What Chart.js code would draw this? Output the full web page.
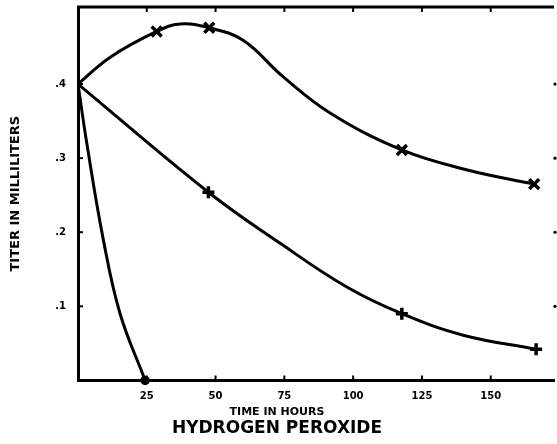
<!DOCTYPE html>
<html>
<head>
<meta charset="utf-8">
<script src="https://cdn.jsdelivr.net/npm/chart.js@4.4.1/dist/chart.umd.min.js"></script>
<style>
  html, body { margin: 0; padding: 0; background: #fff; overflow: hidden; }
  #wrap { width: 557px; height: 444px; }
</style>
</head>
<body>
<div id="wrap"><canvas id="c"></canvas></div>
<script>
// hours / titer (ml)
const upperHours = [0, 11.6, 28.6, 37, 47.7, 60, 74.5, 91.6, 117.7, 141.5, 165.8];
const upperTiter = [0.40, 0.436, 0.471, 0.481, 0.476, 0.459, 0.41, 0.361, 0.311, 0.284, 0.265];
const upperMarkHours = [28.6, 47.7, 117.7, 165.8];
const upperMarkTiter = [0.471, 0.476, 0.311, 0.265];

const lowerHours = [0, 47.4, 73.5, 97.7, 117.7, 140, 166.5];
const lowerTiter = [0.40, 0.254, 0.185, 0.126, 0.09, 0.061, 0.042];
const lowerMarkHours = [47.4, 117.7, 166.5];
const lowerMarkTiter = [0.254, 0.09, 0.042];

const steepHours = [0, 3.2, 9.2, 15.3, 24.4];
const steepTiter = [0.40, 0.32, 0.19, 0.09, 0];
const steepMarkHours = [24.4];
const steepMarkTiter = [0];

const xTicks = [25, 50, 75, 100, 125, 150];
const yTicks = [0.1, 0.2, 0.3, 0.4];
const yLabels = ['.1', '.2', '.3', '.4'];

const pts = (xs, ys) => xs.map((x, i) => ({ x: x, y: ys[i] }));

function curve(xs, ys) {
    return {
        type: 'line', data: pts(xs, ys), borderColor: '#000', borderWidth: 3,
        pointRadius: 0, tension: 0.4, fill: false
    };
}
function marks(xs, ys, style, r) {
    return {
        type: 'scatter', data: pts(xs, ys), pointStyle: style, pointRadius: r,
        borderColor: '#000', backgroundColor: '#000', pointBorderWidth: 3.5, clip: false
    };
}

// frame top edge and small inward tick marks
const frame = {
    id: 'frame',
    afterDraw(chart) {
        const ctx = chart.ctx, a = chart.chartArea;
        const x = chart.scales.x, y = chart.scales.y;
        ctx.save();
        ctx.strokeStyle = '#000';
        ctx.lineWidth = 3;
        ctx.beginPath();
        ctx.moveTo(a.left - 1, a.top);
        ctx.lineTo(a.right, a.top);
        ctx.stroke();
        ctx.lineWidth = 2;
        xTicks.forEach(v => {
            const px = x.getPixelForValue(v);
            ctx.beginPath();
            ctx.moveTo(px, a.bottom); ctx.lineTo(px, a.bottom - 5);
            ctx.moveTo(px, a.top); ctx.lineTo(px, a.top + 5);
            ctx.stroke();
        });
        ctx.fillStyle = '#000';
        yTicks.forEach(v => {
            const py = y.getPixelForValue(v);
            ctx.beginPath();
            ctx.moveTo(a.left, py); ctx.lineTo(a.left + 5, py);
            ctx.stroke();
            ctx.beginPath();
            ctx.arc(a.right + 1, py, 1.6, 0, Math.PI * 2);
            ctx.fill();
        });
        ctx.restore();
    }
};

const tickFont = { family: 'DejaVu Sans', size: 10, weight: 'bold' };

new Chart(document.getElementById('c'), {
    data: {
        datasets: [
            curve(upperHours, upperTiter),
            curve(lowerHours, lowerTiter),
            curve(steepHours, steepTiter),
            marks(upperMarkHours, upperMarkTiter, 'crossRot', 7),
            marks(lowerMarkHours, lowerMarkTiter, 'cross', 6),
            marks(steepMarkHours, steepMarkTiter, 'circle', 3)
        ]
    },
    options: {
        responsive: true,
        maintainAspectRatio: false,
        animation: false,
        layout: { autoPadding: false, padding: { top: 7, right: 3, left: 0, bottom: 5 } },
        plugins: {
            legend: { display: false },
            tooltip: { enabled: false },
            subtitle: {
                display: true, position: 'bottom', text: 'TIME IN HOURS', color: '#000',
                font: { family: 'DejaVu Sans', size: 11, weight: 'bold' }, padding: { top: 1, bottom: 0 }
            },
            title: {
                display: true, position: 'bottom', text: 'HYDROGEN PEROXIDE', color: '#000',
                font: { family: 'DejaVu Sans', size: 17, weight: 'bold' }, padding: { top: 0, bottom: 0 }
            }
        },
        scales: {
            x: {
                type: 'linear', min: 0, max: 173,
                afterBuildTicks: s => { s.ticks = xTicks.map(v => ({ value: v })); },
                afterFit: s => { s.paddingLeft = 0; s.paddingRight = 0; },
                ticks: { color: '#000', font: tickFont, padding: 2, maxRotation: 0 },
                grid: { display: false },
                border: { display: true, color: '#000', width: 3 }
            },
            y: {
                type: 'linear', min: 0, max: 0.504,
                afterBuildTicks: s => { s.ticks = yTicks.map(v => ({ value: v })); },
                afterFit: s => { s.width = 78; s.paddingTop = 0; s.paddingBottom = 0; },
                ticks: {
                    color: '#000', font: tickFont, padding: 4,
                    callback: (v) => yLabels[yTicks.findIndex(t => Math.abs(t - v) < 1e-6)]
                },
                grid: { display: false },
                border: { display: true, color: '#000', width: 3 },
                title: {
                    display: true, text: 'TITER IN MILLILITERS', color: '#000',
                    font: { family: 'DejaVu Sans', size: 13, weight: 'bold' }, padding: { top: 8, bottom: 20 }
                }
            }
        }
    },
    plugins: [frame]
});
</script>
</body>
</html>
